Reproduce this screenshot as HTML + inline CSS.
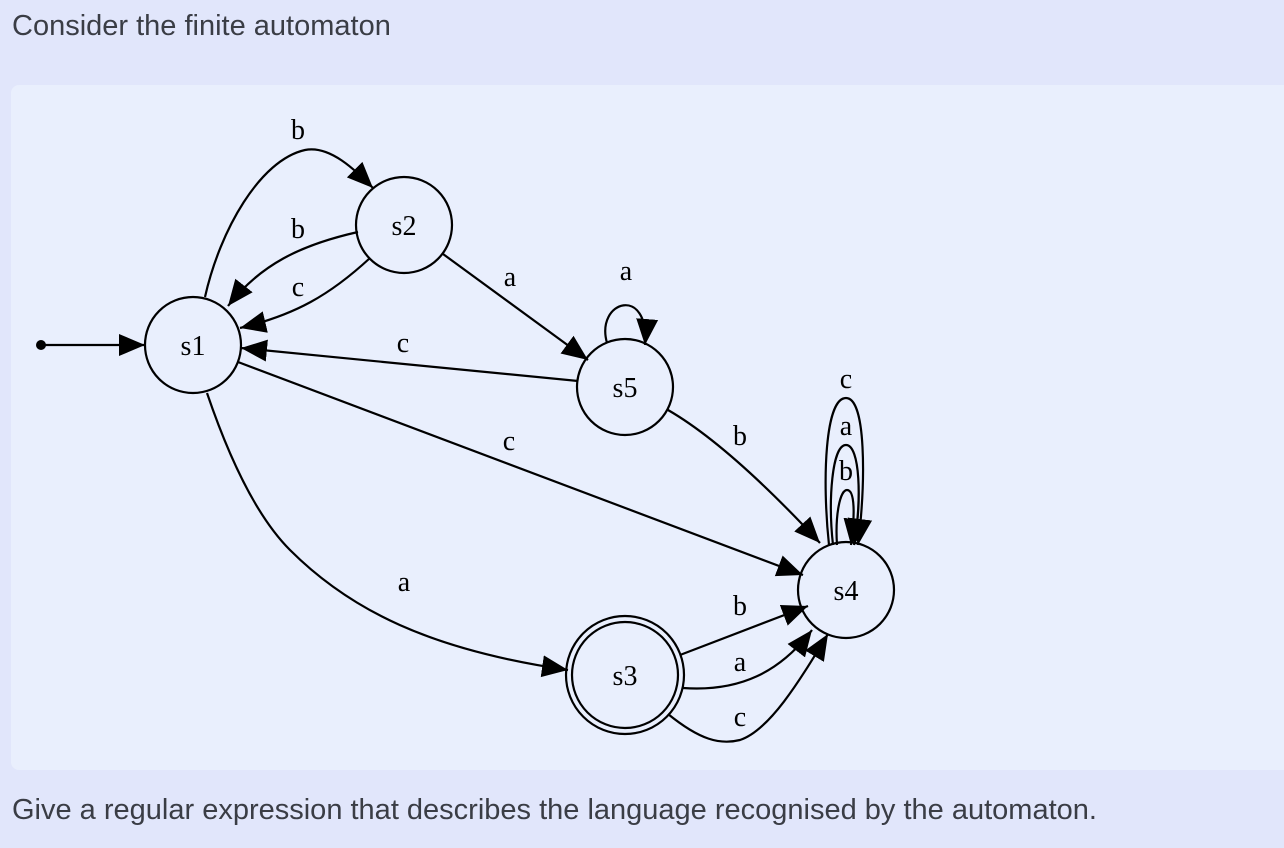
<!DOCTYPE html>
<html><head><style>
body{margin:0;width:1284px;height:848px;background:#e1e6fb;position:relative;overflow:hidden;font-family:"Liberation Sans",sans-serif;color:#3a3d45}
.t{position:absolute;left:12px;font-size:29px;white-space:nowrap}
.panel{position:absolute;left:11px;top:85px;width:1290px;height:685px;background:#e9effd;border-radius:8px}
svg{position:absolute;left:0;top:0}
text{font-family:"Liberation Serif",serif;font-size:28px;fill:#000;text-anchor:middle}
</style></head><body>
<div class="t" style="top:10px">Consider the finite automaton</div>
<div class="panel"></div>
<div class="t" style="top:794px">Give a regular expression that describes the language recognised by the automaton.</div>
<svg width="1284" height="848">
<defs><marker id="a" markerUnits="userSpaceOnUse" markerWidth="28" markerHeight="24" refX="26" refY="12" orient="auto"><path d="M0,1 L26,12 L0,23 Z" fill="#000"/></marker></defs>
<g fill="none" stroke="#000" stroke-width="2.2">
<circle cx="193" cy="345" r="48"/><circle cx="404" cy="225" r="48"/><circle cx="625" cy="387" r="48"/><circle cx="846" cy="590" r="48"/>
<circle cx="625" cy="675" r="53"/><circle cx="625" cy="675" r="59"/>
<g marker-end="url(#a)">
<path d="M41,345 L145,345"/>
<path d="M205,297 C220,230 260,160 305,150 C330,145 355,170 373,188"/>
<path d="M358,232 C300,245 260,265 228,306"/>
<path d="M370,258 C330,295 295,315 240,328"/>
<path d="M578,381 L241,348"/>
<path d="M443,254 L588,360"/>
<path d="M607,343 C595,300 650,285 645,345"/>
<path d="M668,410 C720,440 780,500 820,543"/>
<path d="M238,362 L803,575"/>
<path d="M207,393 C240,490 270,530 290,550 C350,610 430,650 568,670"/>
<path d="M680,655 L808,606"/>
<path d="M683,688 C740,692 780,672 812,630"/>
<path d="M668,714 C700,740 720,745 740,740 C770,730 800,680 828,634"/>
<path d="M829,545 C822,480 825,398 846,398 C866,398 866,480 858,545"/>
<path d="M833,545 C828,500 832,445 846,445 C860,445 862,500 854,545"/>
<path d="M837,545 C835,515 840,490 847,490 C855,490 855,515 851,545"/>
</g></g>
<circle cx="41" cy="345" r="5" fill="#000"/>
<g>
<text x="193" y="355">s1</text><text x="404" y="235">s2</text><text x="625" y="397">s5</text><text x="846" y="600">s4</text><text x="625" y="685">s3</text>
<text x="298" y="139">b</text><text x="298" y="238">b</text><text x="298" y="296">c</text><text x="403" y="352">c</text>
<text x="510" y="286">a</text><text x="626" y="280">a</text><text x="740" y="445">b</text><text x="509" y="450">c</text>
<text x="404" y="591">a</text><text x="740" y="615">b</text><text x="740" y="671">a</text><text x="740" y="726">c</text>
<text x="846" y="388">c</text><text x="846" y="435">a</text><text x="846" y="480">b</text>
</g>
</svg>
</body></html>
